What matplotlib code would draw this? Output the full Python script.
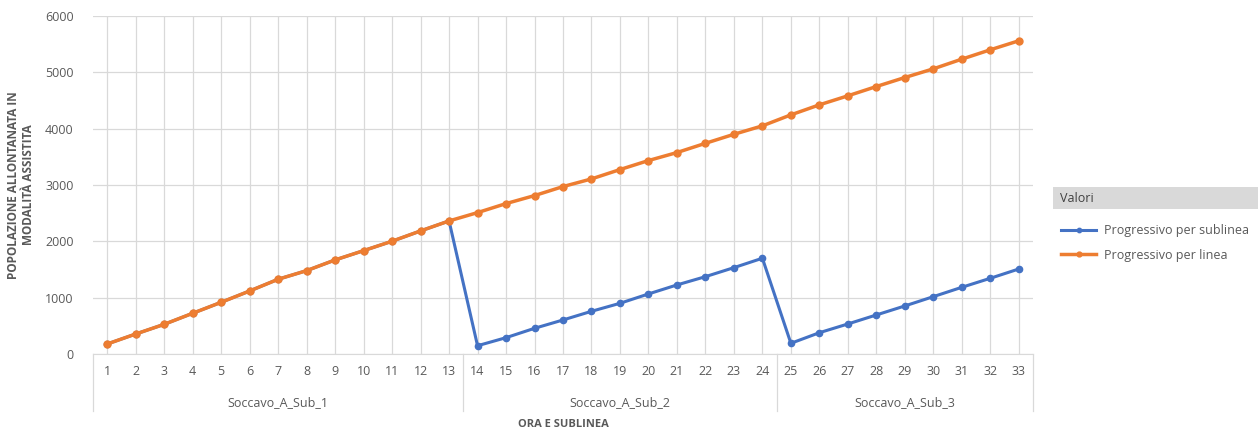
import matplotlib.pyplot as plt
from matplotlib.patches import Rectangle
from matplotlib.lines import Line2D
import matplotlib.transforms as mtransforms

plt.rcParams['font.family'] = ['Open Sans', 'DejaVu Sans']

hours = list(range(1, 34))
groups = ['Soccavo_A_Sub_1', 'Soccavo_A_Sub_2', 'Soccavo_A_Sub_3']
group_sizes = [13, 11, 9]

per_linea = [178, 355, 527, 723, 918, 1119, 1327, 1480, 1670, 1835, 2002, 2185, 2362,
             2510, 2670, 2812, 2972, 3108, 3274, 3434, 3576, 3740, 3900, 4050,
             4245, 4423, 4583, 4748, 4908, 5062, 5234, 5400, 5560]
per_sublinea = [178, 355, 527, 723, 918, 1119, 1327, 1480, 1670, 1835, 2002, 2185, 2362,
                147, 290, 456, 604, 758, 900, 1066, 1226, 1373, 1533, 1700,
                190, 378, 533, 693, 853, 1018, 1184, 1344, 1509]

BLUE = '#4472C4'
ORANGE = '#ED7D31'
GRID = '#D9D9D9'
TXT = '#595959'

fig = plt.figure(figsize=(12.6, 4.36), dpi=100)
ax = fig.add_axes([93/1260, 1-354/436, 940/1260, 338/436])

ax.plot(hours, per_sublinea, color=BLUE, lw=2.2, marker='o', ms=4.5, zorder=3,
        label='Progressivo per sublinea')
ax.plot(hours, per_linea, color=ORANGE, lw=2.5, marker='o', ms=5, zorder=4,
        label='Progressivo per linea')

ax.set_xlim(0.5, 33.5)
ax.set_ylim(0, 6000)
ax.set_yticks(range(0, 6001, 1000))
ax.set_xticks(hours)
ax.set_xticklabels([str(h) for h in hours])
ax.tick_params(axis='both', length=0, colors=TXT, labelsize=9)
ax.tick_params(axis='x', pad=8)
ax.tick_params(axis='y', pad=14)
ax.grid(True, color=GRID, lw=0.9)
ax.set_axisbelow(True)
for s in ['top', 'right', 'left']:
    ax.spines[s].set_visible(False)
ax.spines['bottom'].set_color(GRID)

# category table below the axis
trans = mtransforms.blended_transform_factory(ax.transData, ax.transAxes)
start = 0.5
bounds = [start]
for name, n in zip(groups, group_sizes):
    ax.text(start + n / 2, -0.145, name, transform=trans, ha='center', va='center',
            color=TXT, fontsize=9)
    start += n
    bounds.append(start)
for b in bounds:
    ax.add_line(Line2D([b, b], [0, -0.17], transform=trans, color=GRID, lw=0.9, clip_on=False))

ax.text(0.5, -0.21, 'ORA E SUBLINEA', transform=ax.transAxes, ha='center', va='center',
        color=TXT, fontsize=8, fontweight='bold')
fig.text(21/1260, 1-185/436, 'POPOLAZIONE ALLONTANATA IN\nMODALITÀ ASSISTITA', rotation=90,
         ha='center', va='center', color=TXT, fontsize=8.5, fontweight='bold', multialignment='center')

# legend with grey title bar
fig.patches.append(Rectangle((1053/1260, 1-209/436), 205/1260, 22/436, transform=fig.transFigure,
                             facecolor='#D9D9D9', edgecolor='none'))
fig.text(1060/1260, 1-198/436, 'Valori', ha='left', va='center', color='#404040', fontsize=9)
handles, labels = ax.get_legend_handles_labels()
leg = fig.legend(handles, labels, loc='upper left', bbox_to_anchor=(1050/1260, 1-213/436),
                 frameon=False, fontsize=9, handlelength=2.8, labelspacing=0.9,
                 handletextpad=0.6, markerscale=0.7)
for t in leg.get_texts():
    t.set_color(TXT)

fig.savefig('out.png', dpi=100)
